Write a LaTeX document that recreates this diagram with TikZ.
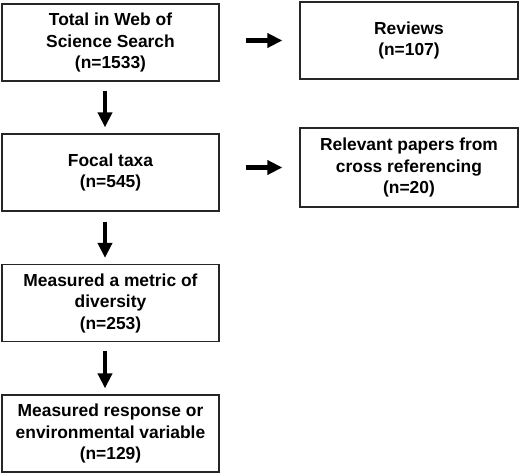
\documentclass[tikz,border=0pt]{standalone}
\usepackage{fontspec}
\setmainfont{Liberation Sans}
\usetikzlibrary{arrows.meta}

\begin{document}
\begin{tikzpicture}[x=1pt, y=-1pt,
		box/.style={draw=black!85, line width=1.3pt, minimum width=217pt, minimum height=77pt, align=center, inner sep=0pt,
			font=\fontsize{17.4}{21.5}\selectfont\bfseries},
		arr/.style={line width=4.6pt, -{Triangle[length=15pt, width=14pt]}}]
		%%%%% START %%%%%
		\useasboundingbox (0, 0) rectangle (520, 475);
		
		\node[box] (total) at (110.5, 42.5) {Total in Web of\\Science Search\\(n=1533)};
		\node[box] (focal) at (110.5, 172.5) {Focal taxa\\(n=545)};
		\node[box] (metric) at (110.5, 303) {Measured a metric of\\diversity\\(n=253)};
		\node[box] (resp) at (110.5, 433.5) {Measured response or\\environmental variable\\(n=129)};
		
		\node[box, minimum width=218pt] (rev) at (409, 40.5) {Reviews\\(n=107)};
		\node[box, minimum width=218pt, minimum height=79pt] (cross) at (409, 167.5) {Relevant papers from\\cross referencing\\(n=20)};
		
		\draw[arr, shorten <=9pt, shorten >=6pt] ([xshift=-5.5pt]total.south) -- ([xshift=-5.5pt]focal.north);
		\draw[arr, shorten <=10pt, shorten >=6pt] ([xshift=-5.5pt]focal.south) -- ([xshift=-5.5pt]metric.north);
		\draw[arr, shorten <=9pt, shorten >=6pt] ([xshift=-5.5pt]metric.south) -- ([xshift=-5.5pt]resp.north);
		
		\draw[arr, shorten <=26pt, shorten >=17pt] (total.east |- rev.east) -- (rev.east -| rev.west);
		\draw[arr, shorten <=26pt, shorten >=17pt] (focal.east |- cross.east) -- (cross.west);
		%%%%% END %%%%%
\end{tikzpicture}
\end{document}
